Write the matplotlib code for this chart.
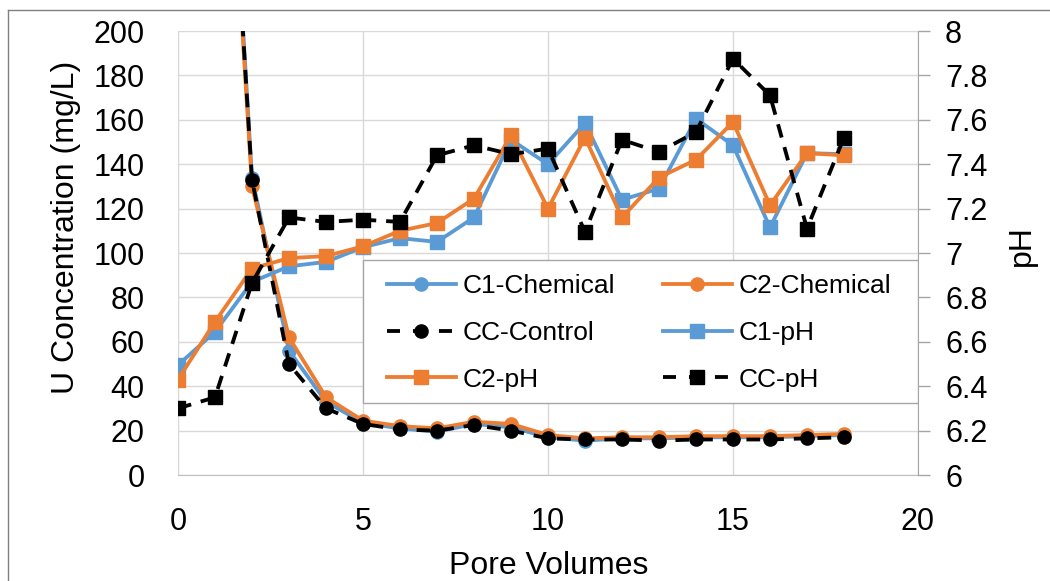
import matplotlib
matplotlib.use("Agg")
import matplotlib.pyplot as plt
from matplotlib.lines import Line2D
from matplotlib.patches import Rectangle

plt.rcParams['font.family'] = ['Liberation Sans', 'DejaVu Sans']

# uranium concentration (mg/L), x = pore volumes 1..18 (x=1 is off the top of the chart)
pv_conc = [1, 2, 3, 4, 5, 6, 7, 8, 9, 10, 11, 12, 13, 14, 15, 16, 17, 18]
c1_chem = [410, 134, 56, 33, 23.5, 21, 19.5, 23, 21.5, 17, 15.5, 16.5, 16.5, 17, 17, 17, 17.5, 18]
c2_chem = [400, 130, 62, 35, 24.5, 22, 21, 24, 23, 18, 16.5, 17, 17, 17.5, 17.5, 17.5, 18, 18.5]
cc_ctrl = [405, 133, 50, 30, 23, 20.5, 20, 22.5, 20, 16.5, 16, 16, 15.5, 16, 16, 16, 16.5, 17]

# pH, x = pore volumes 0..18
pv_ph = list(range(19))
c1_ph = [6.495, 6.645, 6.87, 6.94, 6.96, 7.026, 7.067, 7.05, 7.16, 7.51, 7.40, 7.585, 7.24,
         7.29, 7.605, 7.485, 7.115, 7.45, 7.445]
c2_ph = [6.43, 6.69, 6.93, 6.977, 6.986, 7.03, 7.10, 7.135, 7.245, 7.53, 7.20, 7.52, 7.16,
         7.34, 7.42, 7.59, 7.215, 7.45, 7.44]
cc_ph = [6.30, 6.35, 6.865, 7.16, 7.14, 7.15, 7.14, 7.44, 7.485, 7.445, 7.47, 7.095, 7.51,
         7.455, 7.545, 7.875, 7.71, 7.11, 7.52]

blue = '#5B9BD5'
orange = '#ED7D31'
lw = 2.75
ms = 9.5
dash = (0, (3.6, 2.6))

fig = plt.figure(figsize=(10.5, 5.81), dpi=100)
ax = fig.add_axes([0.16952, 0.18244, 0.70476, 0.76420])
ax2 = ax.twinx()

h1, = ax.plot(pv_conc, c1_chem, color=blue, lw=lw, marker='o', ms=ms, label='C1-Chemical')
h2, = ax.plot(pv_conc, c2_chem, color=orange, lw=lw, marker='o', ms=ms, label='C2-Chemical')
h3, = ax.plot(pv_conc, cc_ctrl, color='black', lw=lw, ls=dash, marker='o', ms=ms, label='CC-Control')

h4, = ax2.plot(pv_ph, c1_ph, color=blue, lw=lw, marker='s', ms=ms, label='C1-pH')
h5, = ax2.plot(pv_ph, c2_ph, color=orange, lw=lw, marker='s', ms=ms, label='C2-pH')
h6, = ax2.plot(pv_ph, cc_ph, color='black', lw=lw, ls=dash, marker='s', ms=ms, label='CC-pH')

ax.set_xlim(0, 20)
ax.set_ylim(0, 200)
ax2.set_ylim(6, 8)
ax.set_xticks([0, 5, 10, 15, 20])
ax.set_yticks(range(0, 201, 20))
ax2.set_yticks([6, 6.2, 6.4, 6.6, 6.8, 7, 7.2, 7.4, 7.6, 7.8, 8])
ax2.set_yticklabels(['6', '6.2', '6.4', '6.6', '6.8', '7', '7.2', '7.4', '7.6', '7.8', '8'])

ax.grid(True, color='#D9D9D9', lw=1.0)
ax.set_axisbelow(True)
for s in ['top', 'right']:
    ax.spines[s].set_visible(False)
ax.spines['left'].set_color('#D9D9D9')
ax.spines['bottom'].set_color('#BFBFBF')
for s in ['top', 'left', 'bottom']:
    ax2.spines[s].set_visible(False)
ax2.spines['right'].set_color('#A6A6A6')

ax.tick_params(axis='x', length=0, pad=23, labelsize=22)
ax.tick_params(axis='y', length=0, pad=24, labelsize=22)
ax2.tick_params(axis='y', length=8.5, width=1, color='#A6A6A6', pad=11, labelsize=22)

fig.text(66 / 1050, 1 - 227 / 581, 'U Concentration (mg/L)', rotation=90,
         ha='center', va='center', fontsize=23)
fig.text(1022 / 1050, 1 - 246 / 581, 'pH', rotation=90, ha='center', va='center', fontsize=23)
fig.text(549 / 1050, 1 - 566 / 581, 'Pore Volumes', ha='center', va='center', fontsize=23)

# legend: dashed handles get a longer pattern so they read "- o -" like the original
leg_dash = (0, (3.4, 3.4))
p3 = Line2D([], [], color='black', lw=lw, ls=leg_dash, marker='o', ms=ms)
p6 = Line2D([], [], color='black', lw=lw, ls=leg_dash, marker='s', ms=ms)

# legend box drawn separately so the entries can be placed exactly
ax2.add_patch(Rectangle((0.25, 0.162), 0.75, 0.322, transform=ax2.transAxes,
                        facecolor='white', edgecolor='#A6A6A6', lw=1, zorder=5))
leg_kw = dict(frameon=False, loc='upper left', borderpad=0, borderaxespad=0,
              handlelength=2.6, handletextpad=0.25, labelspacing=0.86, fontsize=19)
leg1 = ax2.legend([h1, p3, h5], ['C1-Chemical', 'CC-Control', 'C2-pH'],
                  bbox_to_anchor=(0.2824, 0.452), **leg_kw)
leg1.set_zorder(6)
ax2.add_artist(leg1)
leg2 = ax2.legend([h2, h4, p6], ['C2-Chemical', 'C1-pH', 'CC-pH'],
                  bbox_to_anchor=(0.6554, 0.452), **leg_kw)
leg2.set_zorder(6)

# outer frame (left and top edges visible)
fig.add_artist(Line2D([8 / 1050, 8 / 1050], [0, 1 - 10 / 581], color='#808080', lw=1))
fig.add_artist(Line2D([8 / 1050, 1], [1 - 10 / 581, 1 - 10 / 581], color='#808080', lw=1))

fig.savefig('out.png', dpi=100)
